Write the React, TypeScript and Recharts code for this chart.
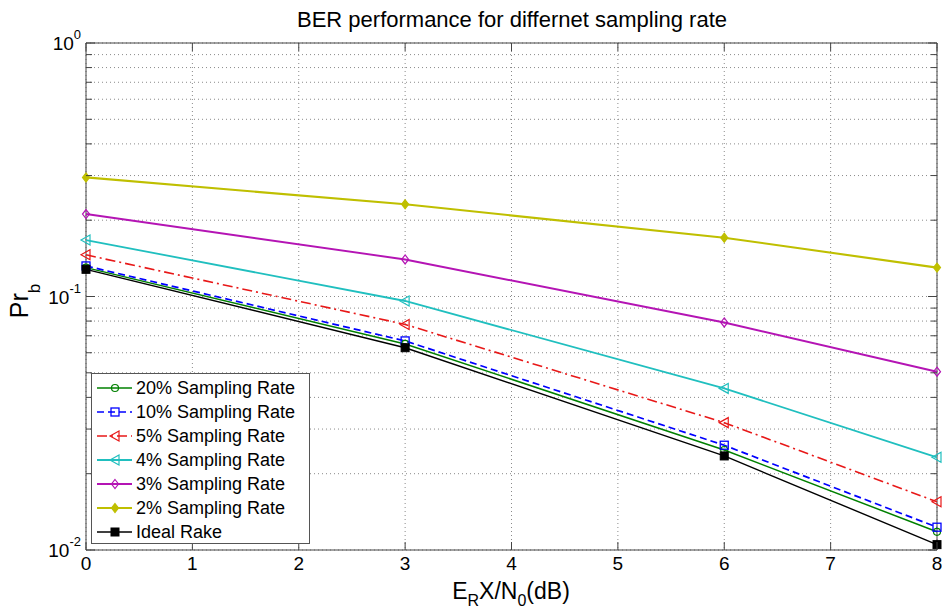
import { LineChart, Line, XAxis, YAxis, CartesianGrid, Legend, ReferenceArea } from 'recharts'

// Eb/N0 points (dB)
const snr = [0, 3, 6, 8]

// bit error probability
const rate20 = [0.13, 0.065, 0.0248, 0.0118]
const rate10 = [0.132, 0.0668, 0.0259, 0.0123]
const rate5 = [0.146, 0.0776, 0.0318, 0.0155]
const rate4 = [0.167, 0.096, 0.0434, 0.0232]
const rate3 = [0.2115, 0.14, 0.079, 0.0505]
const rate2 = [0.295, 0.231, 0.1706, 0.13]
const idealRake = [0.128, 0.0628, 0.0235, 0.0105]

const xTicks = [0, 1, 2, 3, 4, 5, 6, 7, 8]
const yTicks = [
  0.01, 0.02, 0.03, 0.04, 0.05, 0.06, 0.07, 0.08, 0.09,
  0.1, 0.2, 0.3, 0.4, 0.5, 0.6, 0.7, 0.8, 0.9, 1,
]

const FONT = '"Liberation Sans", Arial, Helvetica, sans-serif'
const PLOT_LEFT = 86
const PLOT_RIGHT = 937
const PLOT_TOP = 43
const PLOT_BOTTOM = 550

type MarkerKind = 'circle' | 'square' | 'tri' | 'diamond' | 'diamondFill' | 'squareFill'

interface SeriesDef {
  key: string
  name: string
  color: string
  dash?: string
  marker: MarkerKind
  width: number
}

const series: SeriesDef[] = [
  { key: 'r20', name: '20% Sampling Rate', color: '#008000', marker: 'circle', width: 1.5 },
  { key: 'r10', name: '10% Sampling Rate', color: '#0000FF', dash: '7 4', marker: 'square', width: 1.7 },
  { key: 'r5', name: '5% Sampling Rate', color: '#E81818', dash: '10 4 2 4', marker: 'tri', width: 1.6 },
  { key: 'r4', name: '4% Sampling Rate', color: '#20BFBF', marker: 'tri', width: 1.8 },
  { key: 'r3', name: '3% Sampling Rate', color: '#B414B4', marker: 'diamond', width: 1.9 },
  { key: 'r2', name: '2% Sampling Rate', color: '#BFBF00', marker: 'diamondFill', width: 2.1 },
  { key: 'ideal', name: 'Ideal Rake', color: '#000000', marker: 'squareFill', width: 1.4 },
]

const data = snr.map((x, i) => ({
  x,
  r20: rate20[i],
  r10: rate10[i],
  r5: rate5[i],
  r4: rate4[i],
  r3: rate3[i],
  r2: rate2[i],
  ideal: idealRake[i],
}))

function Marker({ kind, cx, cy, color }: { kind: MarkerKind; cx: number; cy: number; color: string }) {
  if (cx == null || cy == null) return null
  switch (kind) {
    case 'circle':
      return <circle cx={cx} cy={cy} r={3.5} fill="none" stroke={color} strokeWidth={1.2} />
    case 'square':
      return <rect x={cx - 4} y={cy - 4} width={8} height={8} fill="none" stroke={color} strokeWidth={1.3} />
    case 'squareFill':
      return <rect x={cx - 4} y={cy - 4} width={8} height={8} fill={color} stroke={color} strokeWidth={1} />
    case 'tri':
      return (
        <polygon
          points={`${cx - 5},${cy} ${cx + 4},${cy - 5} ${cx + 4},${cy + 5}`}
          fill="none"
          stroke={color}
          strokeWidth={1.2}
        />
      )
    case 'diamond':
    case 'diamondFill':
      return (
        <polygon
          points={`${cx},${cy - 4.5} ${cx + 3.5},${cy} ${cx},${cy + 4.5} ${cx - 3.5},${cy}`}
          fill={kind === 'diamondFill' ? color : 'none'}
          stroke={color}
          strokeWidth={1.2}
        />
      )
  }
  return null
}

function YTick(props: any) {
  const { y, payload } = props
  const v = payload.value as number
  const exp = Math.round(Math.log10(v))
  const major = Math.abs(Math.log10(v) - exp) < 1e-6
  const len = major ? 9 : 6
  return (
    <g>
      <line x1={PLOT_LEFT} x2={PLOT_LEFT + len} y1={y} y2={y} stroke="#444" />
      <line x1={PLOT_RIGHT - len} x2={PLOT_RIGHT} y1={y} y2={y} stroke="#444" />
      {major && (
        <text x={PLOT_LEFT - 5} y={y + 7} textAnchor="end" fontFamily={FONT} fontSize={19} fill="#000">
          10
          <tspan dy={-11} fontSize={13}>
            {exp}
          </tspan>
        </text>
      )}
    </g>
  )
}

function XTick(props: any) {
  const { x, payload } = props
  return (
    <g>
      <line x1={x} x2={x} y1={PLOT_BOTTOM} y2={PLOT_BOTTOM - 8} stroke="#444" />
      <line x1={x} x2={x} y1={PLOT_TOP} y2={PLOT_TOP + 8} stroke="#444" />
      <text x={x} y={PLOT_BOTTOM + 20} textAnchor="middle" fontFamily={FONT} fontSize={19} fill="#000">
        {payload.value}
      </text>
    </g>
  )
}

function LegendBox() {
  return (
    <div
      style={{
        border: '1px solid #555',
        background: '#fff',
        width: 219,
        height: 171,
        boxSizing: 'border-box',
        paddingTop: 2,
        fontFamily: FONT,
        fontSize: 18,
        color: '#000',
      }}
    >
      {series.map((s) => (
        <div key={s.key} style={{ display: 'flex', alignItems: 'center', height: 24, lineHeight: '24px' }}>
          <svg width={44} height={24} style={{ flex: 'none' }}>
            <line x1={5} x2={40} y1={12} y2={12} stroke={s.color} strokeWidth={s.width} strokeDasharray={s.dash} />
            <Marker kind={s.marker} cx={23} cy={12} color={s.color} />
          </svg>
          <span style={{ whiteSpace: 'nowrap' }}>{s.name}</span>
        </div>
      ))}
    </div>
  )
}

export default function App() {
  return (
    <div style={{ position: 'absolute', left: 0, top: 0, width: 942, height: 613, background: '#fff' }}>
      <LineChart
        width={942}
        height={613}
        data={data}
        margin={{ top: PLOT_TOP, right: 942 - PLOT_RIGHT, left: 0, bottom: 613 - PLOT_BOTTOM - 30 }}
      >
        <CartesianGrid stroke="#8a8a8a" strokeDasharray="1 3" />
        <XAxis
          dataKey="x"
          type="number"
          domain={[0, 8]}
          ticks={xTicks}
          interval={0}
          height={30}
          axisLine={false}
          tickLine={false}
          tick={(p: any) => <XTick {...p} />}
        />
        <YAxis
          type="number"
          scale="log"
          domain={[0.01, 1]}
          ticks={yTicks}
          interval={0}
          width={PLOT_LEFT}
          allowDataOverflow
          axisLine={false}
          tickLine={false}
          tick={(p: any) => <YTick {...p} />}
        />
        <ReferenceArea x1={0} x2={8} y1={0.01} y2={1} fill="none" stroke="#444" strokeWidth={1} ifOverflow="visible" />
        {series.map((s) => (
          <Line
            key={s.key}
            type="linear"
            dataKey={s.key}
            name={s.name}
            stroke={s.color}
            strokeWidth={s.width}
            strokeDasharray={s.dash}
            isAnimationActive={false}
            activeDot={false}
            dot={(p: any) => <Marker key={`${s.key}-${p.index}`} kind={s.marker} cx={p.cx} cy={p.cy} color={s.color} />}
          />
        ))}
        <Legend
          layout="vertical"
          align="center"
          verticalAlign="middle"
          wrapperStyle={{ left: 91, top: 373, width: 'auto', height: 'auto' }}
          content={() => <LegendBox />}
        />
        <text x={512} y={27} textAnchor="middle" fontFamily={FONT} fontSize={22} fill="#000">
          BER performance for differnet sampling rate
        </text>
        <text x={511} y={599} textAnchor="middle" fontFamily={FONT} fontSize={23} fill="#000">
          E
          <tspan dy={7} fontSize={16}>R</tspan>
          <tspan dy={-7}>X/N</tspan>
          <tspan dy={7} fontSize={16}>0</tspan>
          <tspan dy={-7}>(dB)</tspan>
        </text>
        <text
          x={28}
          y={301}
          transform="rotate(-90, 28, 301)"
          textAnchor="middle"
          fontFamily={FONT}
          fontSize={25}
          fill="#000"
        >
          Pr
          <tspan dy={12} fontSize={17}>b</tspan>
        </text>
      </LineChart>
    </div>
  )
}
